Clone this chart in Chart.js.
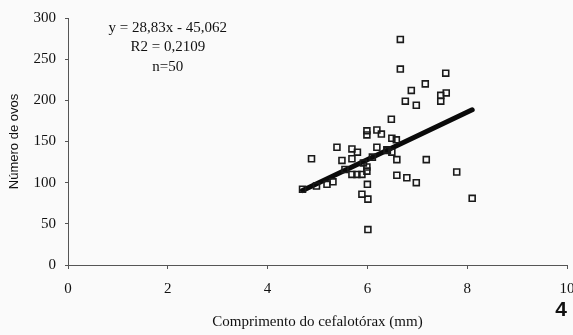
<!DOCTYPE html>
<html>
<head>
<meta charset="utf-8">
<script src="https://cdn.jsdelivr.net/npm/chart.js@4/dist/chart.umd.min.js"></script>
<style>
  html, body { margin: 0; padding: 0; background: #fafafa; }
  #wrap { width: 573px; height: 335px; position: relative; }
</style>
</head>
<body>
<div id="wrap"><canvas id="chart"></canvas></div>
<script>
// cephalothorax length (mm) and number of eggs
const lengthMm = [
  6.66, 6.66, 7.57, 7.16, 6.88, 7.58, 7.47, 7.47, 6.76, 6.98,
  6.48, 5.99, 5.99, 6.19, 6.28, 6.49, 5.39, 5.69, 5.80, 6.19,
  6.39, 6.49, 4.88, 5.49, 5.69, 6.59, 7.18, 5.92, 5.99, 5.99,
  5.69, 5.79, 5.89, 6.59, 6.79, 6.98, 7.79, 6.00, 4.98, 5.19,
  5.31, 5.89, 6.01, 8.10, 6.01, 4.70, 6.58, 6.10, 5.55, 6.40
];
const eggCount = [
  274, 238, 233, 220, 212, 209, 206, 199, 199, 194,
  177, 163, 158, 164, 159, 154, 143, 141, 137, 143,
  140, 137, 129, 127, 129, 128, 128, 124, 119, 114,
  110, 110, 110, 109, 106, 100, 113, 98, 96, 98,
  101, 86, 80, 81, 43, 92, 152, 131, 116, 139
];

// regression from the figure
const slope = 28.83;
const intercept = -45.062;
const statLines = ['y = 28,83x - 45,062', 'R2 = 0,2109', 'n=50'];

const xTicks = [0, 2, 4, 6, 8, 10];
const yTicks = [0, 50, 100, 150, 200, 250, 300];

const points = lengthMm.map((x, i) => ({ x: x, y: eggCount[i] }));
const xMin = Math.min(...lengthMm);
const xMax = Math.max(...lengthMm);
const trend = [xMin, xMax].map(x => ({ x: x, y: slope * x + intercept }));

const serif = 'Liberation Serif, Times New Roman, serif';

// writes the equation box and the page number
const textPlugin = {
  id: 'figText',
  afterDraw(chart) {
    const ctx = chart.ctx;
    const xs = chart.scales.x, ys = chart.scales.y;
    ctx.save();
    ctx.fillStyle = '#111';
    ctx.font = '15px ' + serif;
    ctx.textAlign = 'center';
    ctx.textBaseline = 'middle';
    const cx = xs.getPixelForValue(2);
    const cy = ys.getPixelForValue(288);
    statLines.forEach((t, i) => ctx.fillText(t, cx, cy + i * 19.5));

    ctx.font = 'bold 21px Liberation Sans, Arial, sans-serif';
    ctx.fillText('4', chart.width - 12, 310);
    ctx.restore();
  }
};

const ctx = document.getElementById('chart').getContext('2d');
new Chart(ctx, {
  type: 'scatter',
  data: {
    datasets: [
      {
        label: 'ovos',
        data: points,
        pointStyle: 'rect',
        radius: 4.2,
        borderWidth: 1.6,
        borderColor: '#1a1a1a',
        backgroundColor: 'rgba(255,255,255,0)'
      },
      {
        type: 'line',
        label: 'tendência',
        data: trend,
        borderColor: '#0a0a0a',
        borderWidth: 5,
        pointRadius: 0,
        borderCapStyle: 'round',
        fill: false
      }
    ]
  },
  options: {
    responsive: true,
    maintainAspectRatio: false,
    animation: false,
    layout: { padding: { left: 0, right: 6, top: 15, bottom: 0 } },
    plugins: {
      legend: { display: false },
      tooltip: { enabled: false }
    },
    scales: {
      x: {
        type: 'linear',
        min: 0,
        max: 10,
        afterBuildTicks: s => { s.ticks = xTicks.map(v => ({ value: v })); },
        afterFit: s => { s.height = 70; s.paddingLeft = 0; s.paddingRight = 0; },
        border: { display: true, color: '#555', width: 1 },
        grid: { drawOnChartArea: false, drawTicks: true, tickLength: 4, color: '#555' },
        ticks: { color: '#111', padding: 11, maxRotation: 0, font: { family: serif, size: 15 } },
        title: {
          display: true,
          text: 'Comprimento do cefalotórax (mm)',
          color: '#111',
          font: { family: serif, size: 15 },
          padding: { top: 0, bottom: 4 }
        }
      },
      y: {
        min: 0,
        max: 300,
        afterBuildTicks: s => { s.ticks = yTicks.map(v => ({ value: v })); },
        afterFit: s => { s.width = 68; },
        border: { display: true, color: '#555', width: 1 },
        grid: { drawOnChartArea: false, drawTicks: true, tickLength: 3, color: '#555' },
        ticks: { color: '#111', padding: 9, font: { family: serif, size: 15 } },
        title: {
          display: true,
          text: 'Número de ovos',
          color: '#111',
          font: { family: 'Liberation Sans, Arial, sans-serif', size: 13 },
          padding: { top: 7, bottom: 0 }
        }
      }
    }
  },
  plugins: [textPlugin]
});
</script>
</body>
</html>
